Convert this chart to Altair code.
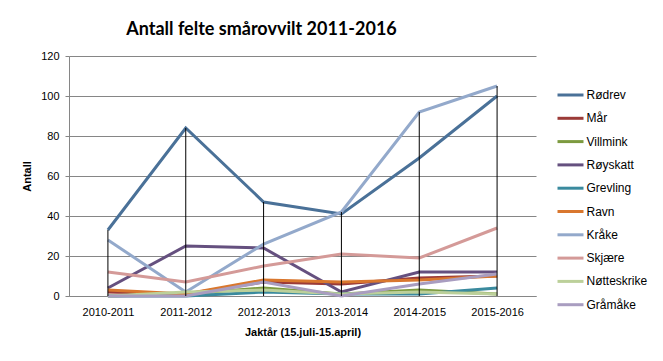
import altair as alt
import pandas as pd

years = ["2010-2011", "2011-2012", "2012-2013", "2013-2014", "2014-2015", "2015-2016"]
species = ["Rødrev", "Mår", "Villmink", "Røyskatt", "Grevling", "Ravn",
           "Kråke", "Skjære", "Nøtteskrike", "Gråmåke"]

rodrev = [33, 84, 47, 41, 69, 100]
mar = [2, 1, 7, 6, 9, 10]
villmink = [0, 1, 4, 1, 3, 1]
royskatt = [4, 25, 24, 2, 12, 12]
grevling = [0, 0, 2, 1, 1, 4]
ravn = [3, 1, 8, 7, 8, 10]
krake = [28, 2, 26, 42, 92, 105]
skjaere = [12, 7, 15, 21, 19, 34]
notteskrike = [0, 2, 3, 1, 2, 1]
gramake = [0, 0, 7, 0, 6, 11]
y_ticks = [0, 20, 40, 60, 80, 100, 120]

series_values = [rodrev, mar, villmink, royskatt, grevling, ravn,
                 krake, skjaere, notteskrike, gramake]

colors = ["#4A7198", "#9B3B38", "#7C9A3F", "#65507F", "#3A8A9E", "#D9772E",
          "#93A9CB", "#D49A98", "#BCD09A", "#A99DC0"]

rows = []
for i, (name, vals) in enumerate(zip(species, series_values)):
    for year, v in zip(years, vals):
        rows.append({"year": year, "species": name, "value": v, "order": i})
df = pd.DataFrame(rows)

base = alt.Chart(df)

xscale = alt.Scale(type="point", padding=0.5)
yscale = alt.Scale(domain=[0, 120])

xaxis = alt.Axis(title="Jaktår (15.juli-15.april)", labelAngle=0,
                 ticks=False, labelPadding=10, titlePadding=9,
                 domainColor="#868686", grid=False)
yaxis = alt.Axis(title="Antall", values=y_ticks, tickCount=7,
                 tickSize=4, tickColor="#868686", domainColor="#868686",
                 gridColor="#868686", labelPadding=6, labelOverlap=False,
                 titleX=-42, titleY=120, titleAngle=-90,
                 titleAlign="center", titleBaseline="middle")

lines = base.mark_line(strokeWidth=3).encode(
    x=alt.X("year:N", sort=years, scale=xscale, axis=xaxis),
    y=alt.Y("value:Q", scale=yscale, axis=yaxis),
    color=alt.Color("species:N", sort=species,
                    scale=alt.Scale(domain=species, range=colors),
                    legend=alt.Legend(title=None, orient="none",
                                      legendX=493.5, legendY=31,
                                      symbolType="M-2,0H2", symbolSize=169,
                                      symbolStrokeWidth=3, labelOffset=8,
                                      rowPadding=9.3, padding=0,
                                      labelFont="Liberation Sans", labelFontSize=12,
                                      labelColor="#000000")),
    order=alt.Order("order:Q"),
)

drops = base.transform_aggregate(
    maxv="max(value)", groupby=["year"]
).mark_rule(color="black", strokeWidth=1).encode(
    x=alt.X("year:N", sort=years, scale=xscale, axis=xaxis),
    y=alt.Y("maxv:Q", scale=yscale, axis=yaxis),
    y2=alt.datum(0),
)

chart = alt.layer(lines, drops).properties(
    width=467, height=240,
    autosize=alt.AutoSizeParams(type="none"),
    padding={"left": 61, "top": 48, "right": 118, "bottom": 57},
    title=alt.TitleParams("Antall felte smårovvilt 2011-2016", font="Lato",
                          fontSize=18, fontWeight="bold", anchor="middle",
                          frame="group", dx=-41, offset=11, color="#000000"),
    background="white",
).configure_view(stroke=None).configure_axis(
    labelFont="Liberation Sans", labelFontSize=11, labelColor="#000000",
    titleFont="Liberation Sans", titleFontSize=11, titleFontWeight="bold",
    titleColor="#000000",
)

chart.save("out.html", embed_options={"renderer": "svg", "actions": False})
